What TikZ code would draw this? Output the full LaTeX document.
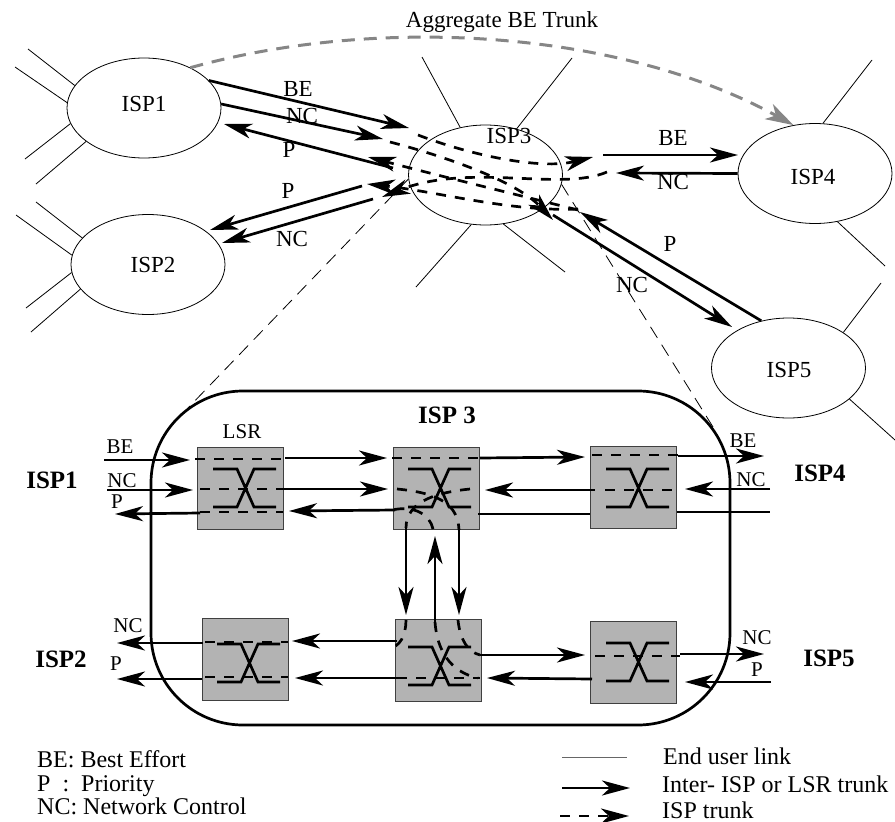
\documentclass[tikz,border=0pt]{standalone}
\usepackage{fontspec}
\setmainfont{Liberation Serif}
\usetikzlibrary{arrows.meta,shapes.geometric}
\definecolor{lsrgray}{HTML}{B3B3B3}
\definecolor{betrunk}{HTML}{868686}

\begin{document}
\begin{tikzpicture}[
  x=1pt,y=-1pt,
  barb/.tip={Stealth[length=28pt,width=15pt,inset=8pt]},
  isp/.style={ellipse,draw,line width=0.8pt,inner sep=0pt,minimum width=154pt,minimum height=100pt},
  lsr/.style={rectangle,draw=black!75,line width=0.8pt,fill=lsrgray,inner sep=0pt,minimum width=86pt,minimum height=82pt},
  userlink/.style={line width=0.8pt},
  zoomline/.style={line width=0.8pt,dash pattern=on 13pt off 8pt},
  bar/.style={line width=2.7pt},
  trunk/.style={bar,-barb},
  isptrunk/.style={bar,dash pattern=on 10pt off 9pt},
  lbl/.style={anchor=base,inner sep=0pt,font=\fontsize{23}{26}\selectfont},
  smalllbl/.style={anchor=base,inner sep=0pt,font=\fontsize{21}{24}\selectfont},
  head/.style={anchor=base,inner sep=0pt,font=\fontsize{25}{28}\selectfont\bfseries},
  legend/.style={anchor=base west,inner sep=0pt,font=\fontsize{24}{27}\selectfont}]
\useasboundingbox (0,0) rectangle (895,822);

% ISP clouds
\foreach \n/\x/\y in {ispOne/144/108,ispTwo/148/264.5,ispThree/485.5/175,ispFour/815/173.5,ispFive/788.5/368}
  \node[isp] (\n) at (\x,\y) {};

% end user links
\foreach \n/\a/\x/\y in {
  ispOne/162/28/49,ispOne/176/15/67,ispOne/192/25/159,ispOne/210/36/184,
  ispTwo/158/36/202,ispTwo/173/16/215,ispTwo/186/26/308,ispTwo/200/31/332,
  ispThree/118/422/57,ispThree/56/572/58,ispThree/254/416/287,ispThree/290/565/272,
  ispFour/81/872/60,ispFour/295/885/266,
  ispFive/33/881/283,ispFive/333/895/440}
{
  \coordinate (\n end\a) at (\x,\y);
  \draw[userlink] (\n.\a) -- (\n end\a);
}

% ISP 3 blown up, with its two guide lines
\node[draw,line width=2.7pt,rounded corners=92pt,inner sep=0pt,minimum width=579pt,minimum height=334pt] (ispBox) at (440.5,558) {};
\coordinate (guideL) at (188,408);
\coordinate (guideR) at (713,427);
\draw[zoomline] (ispThree.183) -- (guideL);
\draw[zoomline] (ispThree.353) -- (guideR);

% LSR boxes
\foreach \n/\x/\y in {lsrA/240/488,lsrB/436/488,lsrC/633.5/487,lsrD/438/660.5,lsrE/245.5/659.5,lsrF/633.5/662}
  \node[lsr] (\n) at (\x,\y) {};

% crossings inside the boxes
\foreach \x/\y in {241/488,436/488,634/488,436/666,245/663,634/662}
  \draw[bar,shift={(\x,\y)}] (-28,-19) -- (-4,-19) -- (13,19) -- (35,19)
    (-28,19) -- (-4,19) -- (13,-19) -- (35,-19);

% aggregate trunk
\draw[line width=3pt,betrunk,dash pattern=on 13pt off 9pt,-{Stealth[length=28pt,width=17pt,inset=8pt]}]
  (ispOne.41) .. controls (380,15) and (620,30) .. (ispFour.114);

% trunks leaving the clouds
\coordinate (beOneTip) at (409,128);
\coordinate (ncOneTip) at (383,139);
\coordinate (ncFourTip) at (616,173);
\coordinate (pFiveTip) at (580,212);
\draw[trunk] (ispOne.23) -- (beOneTip);
\draw[trunk] (ispOne.3) -- (ncOneTip);
\draw[trunk] (ispFour.180) -- (ncFourTip);
\draw[trunk] (ispFive.120) -- (pFiveTip);

% inter-ISP and LSR trunks
\foreach \n/\xa/\ya/\xb/\yb in {
  pOne/393/168/224/124,pTwo/362/186/210/230,ncTwo/373/199/222/243,
  beFour/603/155/738/155,ncFive/553/215/732/327,
  inBE/104/460/190/460,inNC/107/490/193/490,outP/200/513/115/514,
  abTop/285/458/387/458,abMid/283/489/388/489,baLow/395/510/289/511,
  bcTop/480/458/585/457,cbMid/595/490/485/490,
  outBE/678/456/764/456,inNCc/770/489/685/489,
  bdLeft/406/528/406/615,dbMid/435/622/435/536,bdRight/459/528/459/615,
  deTop/397/641/292/641,deLow/402/678/295/678,
  dfTop/480/655/585/655,fdLow/592/679/487/678,
  outNCe/203/643/117/643,outPe/202/679/117/679,
  outNCf/680/654/764/654,inPf/771/682/685/682,
  legTrunk/562/788/630/788}
{
  \coordinate (\n A) at (\xa,\ya);
  \coordinate (\n B) at (\xb,\yb);
  \draw[trunk] (\n A) -- (\n B);
}

% trunks with no tip
\foreach \n/\xa/\ya/\xb/\yb in {bcLow/478/514/590/514,cOut/677/512/770/512}
{
  \coordinate (\n A) at (\xa,\ya);
  \coordinate (\n B) at (\xb,\yb);
  \draw[bar] (\n A) -- (\n B);
}

% ISP trunks through the boxes
\foreach \n/\xa/\ya/\xb/\yb in {
  aTop/195/459/283/459,aMid/200/489/283/489,aLow/200/512/283/512,
  bTop/392/458/480/458,
  cTop/592/455/678/455,cMid/605/490/675/490,
  eTop/205/642/288/642,eLow/205/677/288/677,
  dLow/397/678/480/678,fMid/595/656/680/656}
{
  \coordinate (\n A) at (\xa,\ya);
  \coordinate (\n B) at (\xb,\yb);
  \draw[isptrunk] (\n A) -- (\n B);
}

% bent ISP trunks inside B and D
\foreach \n/\xa/\ya/\xc/\yc/\xd/\yd/\xb/\yb in {
  bCurveA/397/489/440/493/458/505/459/530,
  bCurveB/470/489/440/492/406/500/406/528,
  bCurveC/433/529/430/515/415/505/392/510,
  dCurveA/406/620/406/635/400/648/388/648,
  dCurveB/435/622/437/650/450/672/478/678,
  dCurveC/458/620/460/640/468/652/480/655}
{
  \coordinate (\n A) at (\xa,\ya);
  \coordinate (\n B) at (\xb,\yb);
  \draw[isptrunk] (\n A) .. controls (\xc,\yc) and (\xd,\yd) .. (\n B);
}

% ISP trunks across the cloud
\foreach \n/\xa/\ya/\xc/\yc/\xd/\yd/\xb/\yb in {
  cloudBE/418/135/470/155/540/170/593/157,
  cloudNCa/390/142/440/155/515/180/553/220,
  cloudP/578/210/510/193/440/176/368/157,
  cloudNCb/607/172/560/192/470/162/382/197,
  cloudPb/578/209/510/212/440/192/367/184}
{
  \coordinate (\n A) at (\xa,\ya);
  \coordinate (\n B) at (\xb,\yb);
  \draw[isptrunk,-barb] (\n A) .. controls (\xc,\yc) and (\xd,\yd) .. (\n B);
}

% legend samples
\coordinate (legUserA) at (562,757);
\coordinate (legUserB) at (627,757);
\draw[userlink,black!60] (legUserA) -- (legUserB);
\coordinate (legDashA) at (560,816);
\coordinate (legDashB) at (629,816);
\draw[isptrunk,-barb] (legDashA) -- (legDashB);

% labels
\foreach \t/\x/\y [count=\i] in {
  Aggregate BE Trunk/502/27,ISP1/144/111,ISP2/153/272,ISP3/509/143,ISP4/813/184,ISP5/789/377,
  BE/298/96,NC/302/123,P/289/157,P/288/198,NC/292/246,
  BE/673/145,NC/673/189,P/670/251,NC/632/292}
  \node[lbl] (top\i) at (\x,\y) {\t};
\foreach \t/\x/\y [count=\i] in {
  LSR/242/438,BE/120/453,NC/122/487,P/117/508,
  BE/743/447,NC/751/486,NC/757/644,P/757/676,NC/128/632,P/116/670}
  \node[smalllbl] (low\i) at (\x,\y) {\t};
\foreach \t/\x/\y [count=\i] in {
  ISP 3/447/423,ISP1/52/488,ISP2/61/667,ISP4/820/481,ISP5/829/666}
  \node[head] (head\i) at (\x,\y) {\t};
\foreach \t/\x/\y [count=\i] in {
  BE: Best Effort/37/767,P\ \ :\ \ Priority/37/791,NC: Network Control/37/814,
  End user link/663/764,Inter- ISP or LSR trunk/662/792,ISP trunk/662/818}
  \node[legend] (leg\i) at (\x,\y) {\t};
\end{tikzpicture}
\end{document}
